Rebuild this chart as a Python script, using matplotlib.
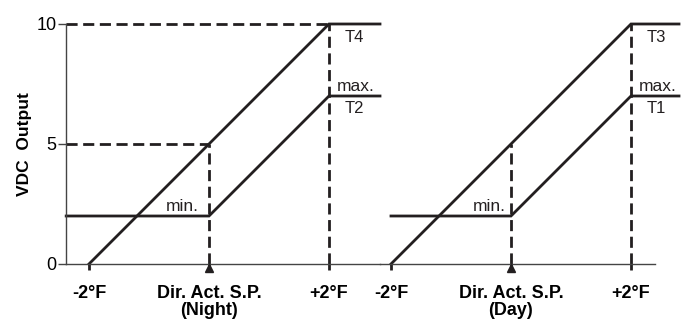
import matplotlib
matplotlib.use('Agg')
import matplotlib.pyplot as plt

plt.rcParams['font.family'] = ['Liberation Sans', 'DejaVu Sans']

# data (temperature offset in degF, output in VDC)
temp_ticks = [-2, 0, 2]
night_labels = ['-2°F', 'Dir. Act. S.P.\n(Night)', '+2°F']
day_labels = ['-2°F', 'Dir. Act. S.P.\n(Day)', '+2°F']
vdc_ticks = [0, 5, 10]

night_upper_x = [-2, 2, 2.85]
night_upper_y = [0, 10, 10]
night_lower_x = [-2.38, 0, 2, 2.85]
night_lower_y = [2, 2, 7, 7]

day_upper_x = [-2, 2, 2.8]
day_upper_y = [0, 10, 10]
day_lower_x = [-2, 0, 2, 2.8]
day_lower_y = [2, 2, 7, 7]

min_vdc = 2
max_vdc = 7
mid_vdc = 5
top_vdc = 10

dark = '#231f20'

fig = plt.figure(figsize=(6.9, 3.2), dpi=100)
ax1 = fig.add_axes([66/690, 56/320, 314/690, 240/320])
ax2 = fig.add_axes([380/690, 56/320, 275/690, 240/320])

ax1.set_xlim(-2.383, 2.85)
ax2.set_xlim(-2.183, 2.4)
for ax in (ax1, ax2):
    ax.set_ylim(0, 10)
    ax.patch.set_alpha(0)
    for s in ('top', 'right'):
        ax.spines[s].set_visible(False)
    ax.spines['bottom'].set_color('#444444')
    ax.spines['bottom'].set_linewidth(1.0)
    ax.tick_params(axis='x', length=4, width=2, color=dark, pad=11)

ax2.spines['left'].set_visible(False)
ax2.set_yticks([])
ax1.spines['left'].set_color('#444444')
ax1.spines['left'].set_linewidth(1.0)
ax1.set_yticks(vdc_ticks, [str(v) for v in vdc_ticks], fontsize=13)
ax1.tick_params(axis='y', length=6, width=1, color='#444444', pad=1)
ax1.set_ylabel('VDC  Output', fontsize=12.5, fontweight='bold', labelpad=3)

ax1.set_xticks(temp_ticks, night_labels, fontsize=13, fontweight='bold',
               linespacing=1.05)
ax2.set_xticks(temp_ticks, day_labels, fontsize=13, fontweight='bold',
               linespacing=1.05)

dash = dict(color=dark, lw=2, ls=(0, (4, 2)), clip_on=False)

# left panel (night)
ax1.plot([ax1.get_xlim()[0], 2], [top_vdc, top_vdc], **dash)
ax1.plot([ax1.get_xlim()[0], 0], [mid_vdc, mid_vdc], **dash)
ax1.plot([0, 0], [0, mid_vdc], **dash)
ax1.plot([2, 2], [0, top_vdc], **dash)
ax1.plot(night_upper_x, night_upper_y, color=dark, lw=2, clip_on=False,
         solid_joinstyle='miter')
ax1.plot(night_lower_x, night_lower_y, color=dark, lw=2, clip_on=False,
         solid_joinstyle='miter')

# right panel (day)
ax2.plot([0, 0], [0, mid_vdc], **dash)
ax2.plot([2, 2], [0, top_vdc], **dash)
ax2.plot(day_upper_x, day_upper_y, color=dark, lw=2, clip_on=False,
         solid_joinstyle='miter')
ax2.plot(day_lower_x, day_lower_y, color=dark, lw=2, clip_on=False,
         solid_joinstyle='miter')

for ax, up, lo, mx in ((ax1, 'T4', 'T2', -0.17), (ax2, 'T3', 'T1', -0.08)):
    ax.plot([0], [-0.17], marker='^', ms=6, color=dark, clip_on=False,
            zorder=5)
    ax.text(mx, min_vdc + 0.1, 'min.', ha='right', va='bottom',
            fontsize=12.5, color=dark)
    ax.text(2.42, top_vdc - 0.25, up, ha='center', va='top', fontsize=12,
            color=dark)
    ax.text(2.45, max_vdc + 0.1, 'max.', ha='center', va='bottom',
            fontsize=12.5, color=dark)
    ax.text(2.42, max_vdc - 0.2, lo, ha='center', va='top', fontsize=12,
            color=dark)

fig.savefig('out.png', dpi=100)
